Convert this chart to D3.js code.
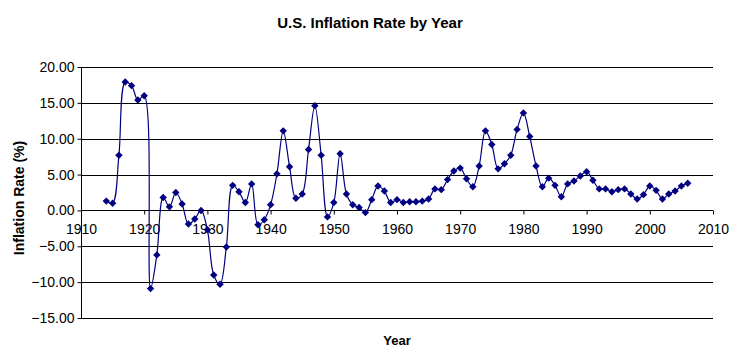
<!DOCTYPE html>
<html lang="en">
<head>
    <meta charset="UTF-8">
    <title>U.S. Inflation Rate by Year</title>
    <script src="https://d3js.org/d3.v7.min.js"></script>
    <style>
        body {
            margin: 0;
            background-color: #ffffff;
            font-family: Arial, "Liberation Sans", sans-serif;
        }
    </style>
</head>
<body>
    <div id="chart"></div>

    <script>
        // years shown on the chart (one point per year)
        const years = d3.range(1914, 2007);

        // inflation rate (%), 1914 - 2006
        const rates = [
            1.3, 1.0, 7.7, 17.9, 17.4, 15.4, 16.0, -10.9, -6.2, 1.8,
            0.5, 2.5, 0.9, -1.9, -1.2, 0.0, -2.7, -9.0, -10.3, -5.1,
            3.5, 2.6, 1.1, 3.7, -2.0, -1.3, 0.8, 5.1, 11.1, 6.1,
            1.7, 2.3, 8.5, 14.6, 7.7, -0.9, 1.1, 7.9, 2.3, 0.8,
            0.4, -0.3, 1.5, 3.4, 2.7, 1.1, 1.5, 1.1, 1.2, 1.2,
            1.3, 1.6, 3.0, 2.9, 4.3, 5.5, 5.9, 4.4, 3.3, 6.2,
            11.1, 9.2, 5.8, 6.5, 7.7, 11.3, 13.6, 10.3, 6.2, 3.3,
            4.5, 3.5, 1.9, 3.7, 4.1, 4.8, 5.4, 4.2, 3.0, 3.0,
            2.6, 2.9, 3.0, 2.3, 1.6, 2.2, 3.4, 2.8, 1.6, 2.3,
            2.7, 3.4, 3.8
        ];

        const xTicks = d3.range(1910, 2011, 10);
        const yTicks = d3.range(-15, 21, 5);

        const data = years.map((y, i) => ({ year: y, rate: rates[i] }));

        const width = 738, height = 362;
        const margin = { top: 67, right: 25, bottom: 44, left: 81 };

        const svg = d3.select("#chart").append("svg")
            .attr("width", width).attr("height", height);

        const x = d3.scaleLinear().domain([1910, 2010])
            .range([margin.left, width - margin.right]);
        const y = d3.scaleLinear().domain([-15, 20])
            .range([height - margin.bottom, margin.top]);

        // horizontal gridlines
        svg.append("g")
            .selectAll("line")
            .data(yTicks)
            .enter().append("line")
            .attr("x1", x(1910)).attr("x2", x(2010))
            .attr("y1", d => Math.round(y(d)) + 0.5)
            .attr("y2", d => Math.round(y(d)) + 0.5)
            .attr("stroke", "#000").attr("stroke-width", 1);

        // y axis
        const yAxis = svg.append("g")
            .attr("transform", `translate(${Math.round(x(1910)) + 0.5},0)`)
            .call(d3.axisLeft(y).tickValues(yTicks).tickSize(4).tickPadding(3)
                .tickFormat(d3.format(".2f")));
        yAxis.selectAll("text")
            .attr("font-family", "Arial, 'Liberation Sans', sans-serif")
            .attr("font-size", 14).attr("fill", "#000");
        yAxis.selectAll("line,path").attr("stroke", "#000");
        yAxis.select(".domain").attr("d", `M0,${y(-15)}V${y(20)}`);

        // x axis sitting on the zero line
        const xAxis = svg.append("g")
            .attr("transform", `translate(0,${Math.round(y(0)) + 0.5})`)
            .call(d3.axisBottom(x).tickValues(xTicks).tickSize(4).tickPadding(10)
                .tickFormat(d3.format("d")));
        xAxis.selectAll("text")
            .attr("font-family", "Arial, 'Liberation Sans', sans-serif")
            .attr("font-size", 14).attr("fill", "#000");
        xAxis.selectAll("line,path").attr("stroke", "#000");
        xAxis.select(".domain").attr("d", `M${x(1910)},0H${x(2010)}`);

        // smoothed series line
        const line = d3.line()
            .x(d => x(d.year))
            .y(d => y(d.rate))
            .curve(d3.curveCatmullRom.alpha(0.5));

        svg.append("path")
            .datum(data)
            .attr("fill", "none")
            .attr("stroke", "#000080")
            .attr("stroke-width", 1.2)
            .attr("d", line);

        // diamond markers
        svg.append("g")
            .selectAll("path")
            .data(data)
            .enter().append("path")
            .attr("transform", d => `translate(${x(d.year)},${y(d.rate)})`)
            .attr("d", "M0,-3.7L3.7,0L0,3.7L-3.7,0Z")
            .attr("fill", "#000080");

        // title and axis labels
        svg.append("text")
            .attr("x", 370).attr("y", 28)
            .attr("text-anchor", "middle")
            .attr("font-size", 15).attr("font-weight", "bold")
            .text("U.S. Inflation Rate by Year");

        svg.append("text")
            .attr("transform", "translate(24,198) rotate(-90)")
            .attr("text-anchor", "middle")
            .attr("font-size", 14).attr("font-weight", "bold")
            .text("Inflation Rate (%)");

        svg.append("text")
            .attr("x", 397).attr("y", 345)
            .attr("text-anchor", "middle")
            .attr("font-size", 13).attr("font-weight", "bold")
            .text("Year");
    </script>
</body>
</html>
